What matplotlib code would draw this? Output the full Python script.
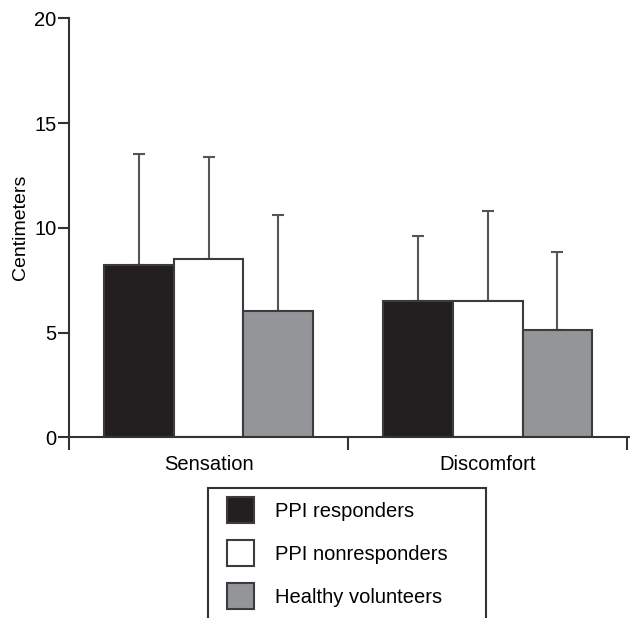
import numpy as np
import matplotlib.pyplot as plt
from matplotlib.patches import Patch, Rectangle

plt.rcParams['font.family'] = ['Liberation Sans', 'DejaVu Sans']

# data
groups = ['Sensation', 'Discomfort']
series = ['PPI responders', 'PPI nonresponders', 'Healthy volunteers']
means = {
    'PPI responders': [8.24, 6.49],
    'PPI nonresponders': [8.52, 6.49],
    'Healthy volunteers': [6.01, 5.13],
}
sd = {
    'PPI responders': [5.26, 3.13],
    'PPI nonresponders': [4.88, 4.32],
    'Healthy volunteers': [4.59, 3.70],
}
colors = ['#231f20', '#ffffff', '#939598']
edge = '#3c3c3c'

fig = plt.figure(figsize=(6.3, 6.18), dpi=100)
ax = fig.add_axes([69/630, 1-437.3/618, (630-69)/630, (437.3-18.3)/618])

w = 0.25
x = np.arange(len(groups)) + 0.5
for i, s in enumerate(series):
    xs = x + (i - 1) * w
    ax.bar(xs, means[s], width=w, color=colors[i], edgecolor=edge, linewidth=1.5, zorder=2)
    lower = np.zeros(len(groups))
    ax.errorbar(xs, means[s], yerr=[lower, sd[s]], fmt='none', ecolor='#555555',
                elinewidth=1.5, capsize=4, capthick=1.5, zorder=1)

ax.set_xlim(0, 2.01)
ax.set_ylim(0, 20)
ax.set_yticks([0, 5, 10, 15, 20])
ax.set_xticks([0, 1, 2])
ax.set_xticklabels([])
ax.set_xticks(x, minor=True)
ax.set_xticklabels(groups, minor=True)
ax.tick_params(axis='x', which='minor', length=0, pad=13, labelsize=14.5)
ax.tick_params(axis='x', which='major', length=9, width=1.5, color='#333333')
ax.tick_params(axis='y', length=8, width=1.5, color='#333333', labelsize=14.5, pad=1)
ax.set_ylabel('Centimeters', fontsize=14, labelpad=4)

for sp in ['top', 'right']:
    ax.spines[sp].set_visible(False)
for sp in ['left', 'bottom']:
    ax.spines[sp].set_linewidth(1.5)
    ax.spines[sp].set_color('#333333')

# legend, frame runs off the bottom of the picture
handles = [Patch(facecolor=colors[i], edgecolor=edge, linewidth=1.5) for i in range(3)]
fig.legend(handles, series, loc='upper left', bbox_to_anchor=(217/630, 1-487/618),
           frameon=False, borderpad=0, fontsize=14.5, handlelength=1.35, handleheight=1.6,
           handletextpad=1.05, labelspacing=0.85)
fig.patches.append(Rectangle((208.3/630, -0.05), (485.7-208.3)/630, 0.05+1-488.3/618,
                             transform=fig.transFigure, fill=False, edgecolor='#333333',
                             linewidth=1.5))

fig.savefig('out.png', dpi=100)
